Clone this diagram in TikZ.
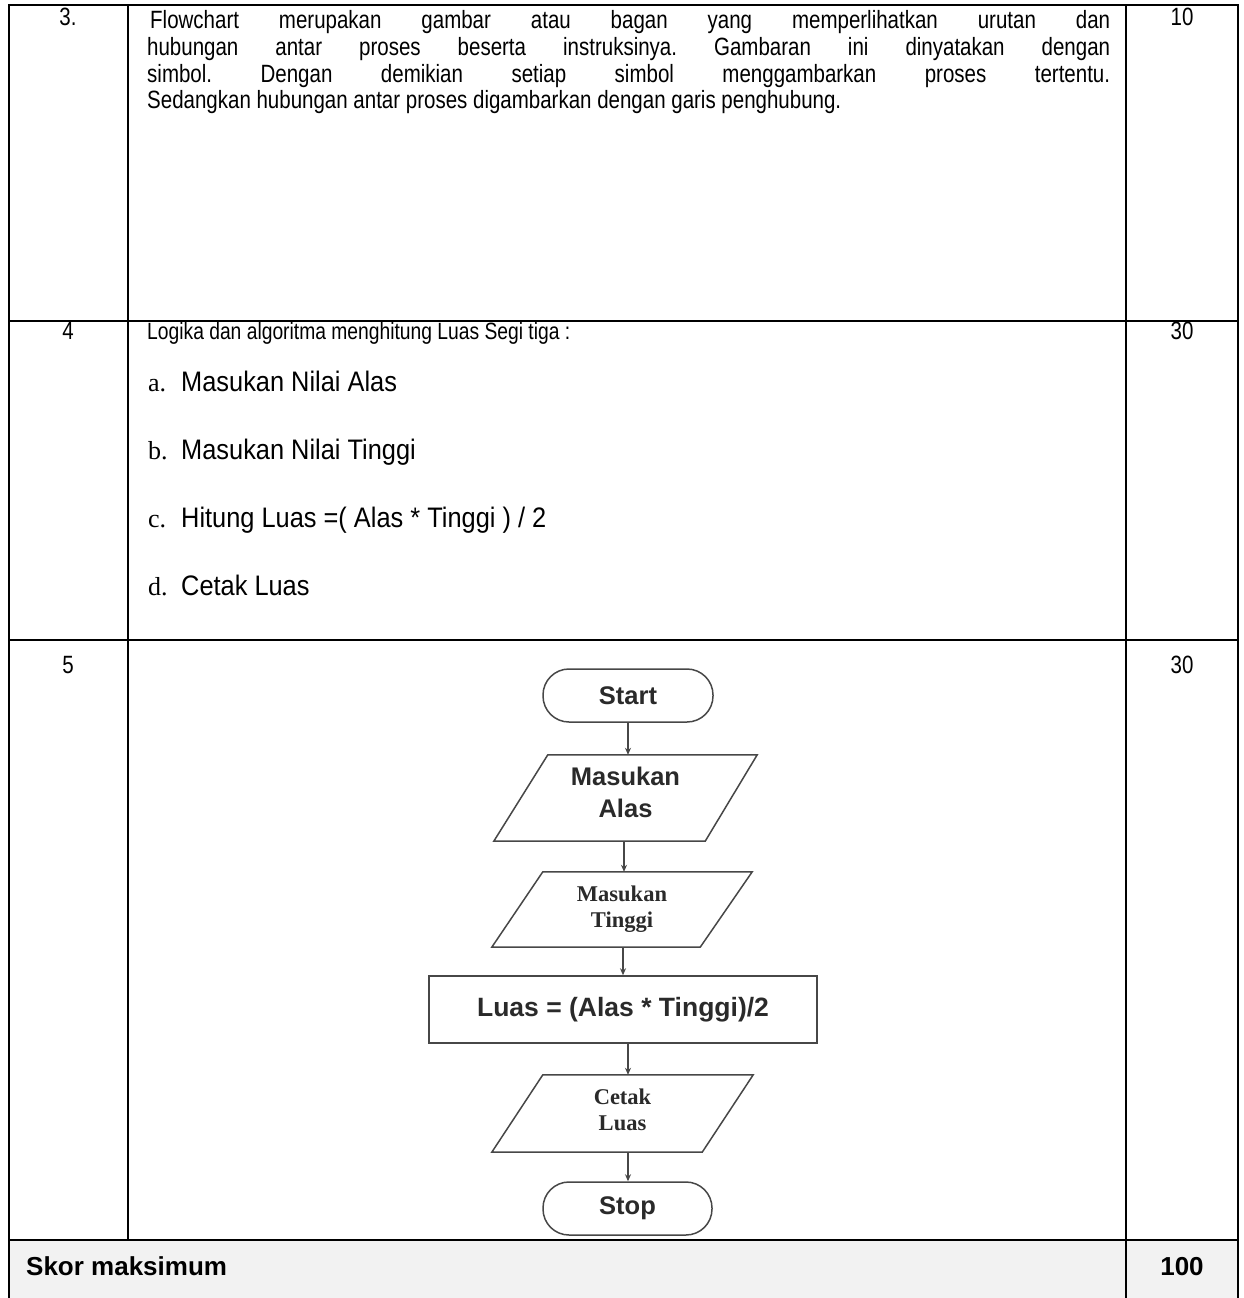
\documentclass[tikz,border=0pt]{standalone}
\usepackage{fontspec}
\setmainfont{Liberation Sans}[FakeStretch=0.82]
\newfontfamily\tnr{Liberation Serif}
\newfontfamily\arl{Liberation Sans}
\newfontfamily\itemfont{Liberation Sans}[FakeStretch=0.9]
\usetikzlibrary{arrows.meta}
\definecolor{rowgray}{HTML}{F2F2F2}
\definecolor{fcline}{HTML}{474747}
\definecolor{fctext}{HTML}{2A2A2A}
\frenchspacing
\tikzset{
  grid/.style={line width=2pt, line cap=rect},
  body/.style={inner sep=0pt, font=\fontsize{25}{28}\selectfont},
  intro/.style={inner sep=0pt, font=\fontsize{23.5}{28}\selectfont},
  item/.style={inner sep=0pt, font=\itemfont\fontsize{28.2}{30}\selectfont},
  lbl/.style={inner sep=0pt, font=\tnr\fontsize{26}{28}\selectfont},
  num/.style={inner sep=0pt, anchor=base, font=\fontsize{25}{28}\selectfont},
  boldtxt/.style={inner sep=0pt, font=\arl\bfseries\fontsize{26}{28}\selectfont},
  fcbox/.style={draw=fcline, line width=1.5pt, inner sep=0pt, text=fctext, align=center},
  ghost/.style={inner sep=0pt, text=fctext, align=center},
  sansb/.style={font=\arl\bfseries\fontsize{25.5}{32}\selectfont},
  sansc/.style={font=\arl\bfseries\fontsize{26.5}{32}\selectfont},
  serifb/.style={font=\tnr\bfseries\fontsize{22.5}{26}\selectfont},
  arr/.style={draw=fcline, line width=1.3pt, -{Stealth[length=7pt,width=6pt]}},
}
\begin{document}
\begin{tikzpicture}[x=1pt,y=-1pt]
\useasboundingbox (0,0) rectangle (1243,1298);
% grey last row
\fill[rowgray] (9,1240) rectangle (1238,1298);
% table grid
\draw[grid] (9,5) -- (1238,5);
\draw[grid] (9,321) -- (1238,321);
\draw[grid] (9,640) -- (1238,640);
\draw[grid] (9,1240) -- (1238,1240);
\draw[grid] (9,5) -- (9,1298);
\draw[grid] (128,5) -- (128,1240);
\draw[grid] (1126,5) -- (1126,1298);
\draw[grid] (1238,5) -- (1238,1298);

% row 3
\node[num] (n3) at (68,26) {3.};
\node[num] (s3) at (1182,26) {10};
\node[body, anchor=base west] (t31) at (150,29) {\makebox[960pt][s]{Flowchart merupakan gambar atau bagan yang memperlihatkan urutan dan}};
\node[body, anchor=base west] (t32) at (147,55.5) {\makebox[963pt][s]{hubungan antar proses beserta instruksinya. Gambaran ini dinyatakan dengan}};
\node[body, anchor=base west] (t33) at (147,82) {\makebox[963pt][s]{simbol. Dengan demikian setiap simbol menggambarkan proses tertentu.}};
\node[body, anchor=base west] (t34) at (147,108.5) {Sedangkan hubungan antar proses digambarkan dengan garis penghubung.};

% row 4
\node[num] (n4) at (68,339) {4};
\node[num] (s4) at (1182,339) {30};
\node[intro, anchor=base west] (t41) at (147,339) {Logika dan algoritma menghitung Luas Segi tiga :};
\node[lbl, anchor=base west] (la) at (148,391) {a.};
\node[item, anchor=base west] (ta) at (181,391) {Masukan Nilai Alas};
\node[lbl, anchor=base west] (lb) at (148,459) {b.};
\node[item, anchor=base west] (tb) at (181,459) {Masukan Nilai Tinggi};
\node[lbl, anchor=base west] (lc) at (148,527) {c.};
\node[item, anchor=base west] (tc) at (181,527) {Hitung Luas =( Alas * Tinggi ) / 2};
\node[lbl, anchor=base west] (ld) at (148,595) {d.};
\node[item, anchor=base west] (td) at (181,595) {Cetak Luas};

% row 5
\node[num] (n5) at (68,673) {5};
\node[num] (s5) at (1182,673) {30};

% skor row
\node[boldtxt, anchor=base west] (skor) at (26,1275) {Skor maksimum};
\node[boldtxt, anchor=base] (skorv) at (1182,1275) {100};

% flowchart
\node[fcbox, sansb, rounded corners=26pt, minimum width=170pt, minimum height=53pt] (start) at (628,695.5) {Start};

\node[ghost, sansb, minimum width=263pt, minimum height=86pt] (in1) at (625.5,798) {};
\node[ghost, sansb, anchor=base] (in1t) at (625.5,785) {Masukan};
\node[ghost, sansb, anchor=base] (in1b) at (625.5,817) {Alas};
\draw[fcline, line width=1.5pt] ([xshift=54pt]in1.north west) -- (in1.north east) -- ([xshift=-52pt]in1.south east) -- (in1.south west) -- cycle;

\node[ghost, serifb, minimum width=260pt, minimum height=75pt] (in2) at (622,909.5) {Masukan\\Tinggi};
\draw[fcline, line width=1.5pt] ([xshift=51pt]in2.north west) -- (in2.north east) -- ([xshift=-52pt]in2.south east) -- (in2.south west) -- cycle;

\node[fcbox, sansc, minimum width=388pt, minimum height=67pt] (proc) at (623,1009.5) {Luas = (Alas * Tinggi)/2};

\node[ghost, serifb, minimum width=261pt, minimum height=77pt] (out) at (622.5,1113.5) {};
\node[ghost, serifb, anchor=base] (outt) at (622.5,1104) {Cetak};
\node[ghost, serifb, anchor=base] (outb) at (622.5,1130) {Luas};
\draw[fcline, line width=1.5pt] ([xshift=51pt]out.north west) -- (out.north east) -- ([xshift=-51pt]out.south east) -- (out.south west) -- cycle;

\node[fcbox, sansb, rounded corners=26pt, minimum width=169pt, minimum height=53pt] (stop) at (627.5,1208.5) {Stop};

\draw[arr] (start.south) -- (start.south |- in1.north);
\draw[arr] ([xshift=-1.5pt]in1.south) -- ([xshift=-1.5pt]in1.south |- in2.north);
\draw[arr] ([xshift=1pt]in2.south) -- ([xshift=1pt]in2.south |- proc.north);
\draw[arr] ([xshift=5pt]proc.south) -- ([xshift=5pt]proc.south |- out.north);
\draw[arr] ([xshift=5.5pt]out.south) -- ([xshift=5.5pt]out.south |- stop.north);
\end{tikzpicture}
\end{document}
